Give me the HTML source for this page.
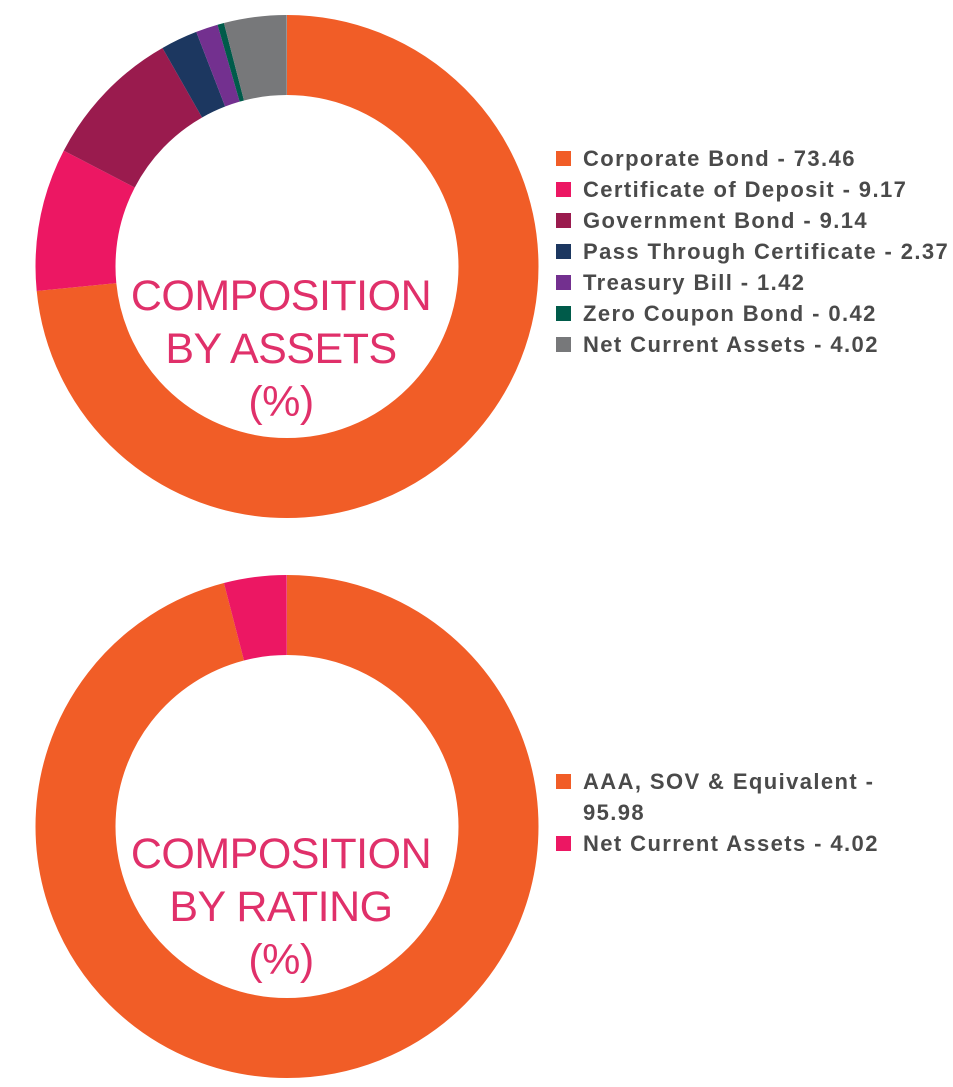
<!DOCTYPE html>
<html><head><style>
body{margin:0;background:#fff;width:953px;height:1087px;overflow:hidden;position:relative;font-family:"Liberation Sans",sans-serif}
.lg{position:absolute;left:556px;font-size:22px;font-weight:bold;color:#4a4a4a;line-height:31px;letter-spacing:1.4px}
.lg div{position:relative;padding-left:27px;white-space:nowrap}
.lg span{position:absolute;left:0;top:8px;width:15px;height:15px}
.t{position:absolute;width:340px;text-align:center;color:#e0306a;font-size:43px;line-height:53px;letter-spacing:-0.5px}
</style></head><body>
<svg width="953" height="1087" style="position:absolute;left:0;top:0">
<g transform="rotate(-90 287 266.5)" fill="none" stroke-width="80">
<circle cx="287" cy="266.5" r="211.5" pathLength="100" stroke="#f15d27" stroke-dasharray="73.46 100" stroke-dashoffset="0"/>
<circle cx="287" cy="266.5" r="211.5" pathLength="100" stroke="#ec1763" stroke-dasharray="9.17 100" stroke-dashoffset="-73.46"/>
<circle cx="287" cy="266.5" r="211.5" pathLength="100" stroke="#9a1b4e" stroke-dasharray="9.14 100" stroke-dashoffset="-82.63"/>
<circle cx="287" cy="266.5" r="211.5" pathLength="100" stroke="#1c3760" stroke-dasharray="2.37 100" stroke-dashoffset="-91.77"/>
<circle cx="287" cy="266.5" r="211.5" pathLength="100" stroke="#73308f" stroke-dasharray="1.42 100" stroke-dashoffset="-94.14"/>
<circle cx="287" cy="266.5" r="211.5" pathLength="100" stroke="#005b4a" stroke-dasharray="0.42 100" stroke-dashoffset="-95.56"/>
<circle cx="287" cy="266.5" r="211.5" pathLength="100" stroke="#77787a" stroke-dasharray="4.02 100" stroke-dashoffset="-95.98"/>
</g>
<g transform="rotate(-90 287 826.5)" fill="none" stroke-width="80">
<circle cx="287" cy="826.5" r="211.5" pathLength="100" stroke="#f15d27" stroke-dasharray="95.98 100" stroke-dashoffset="0"/>
<circle cx="287" cy="826.5" r="211.5" pathLength="100" stroke="#ec1763" stroke-dasharray="4.02 100" stroke-dashoffset="-95.98"/>
</g>
</svg>
<div class="t" style="left:111px;top:270px">COMPOSITION<br>BY ASSETS<br>(%)</div>
<div class="t" style="left:111px;top:828px">COMPOSITION<br>BY RATING<br>(%)</div>
<div class="lg" style="top:143px">
<div><span style="background:#f15d27"></span>Corporate Bond - 73.46</div>
<div><span style="background:#ec1763"></span>Certificate of Deposit - 9.17</div>
<div><span style="background:#9a1b4e"></span>Government Bond - 9.14</div>
<div><span style="background:#1c3760"></span>Pass Through Certificate - 2.37</div>
<div><span style="background:#73308f"></span>Treasury Bill - 1.42</div>
<div><span style="background:#005b4a"></span>Zero Coupon Bond - 0.42</div>
<div><span style="background:#77787a"></span>Net Current Assets - 4.02</div>
</div>
<div class="lg" style="top:766px">
<div><span style="background:#f15d27"></span>AAA, SOV &amp; Equivalent -<br>95.98</div>
<div><span style="background:#ec1763"></span>Net Current Assets - 4.02</div>
</div>
</body></html>
